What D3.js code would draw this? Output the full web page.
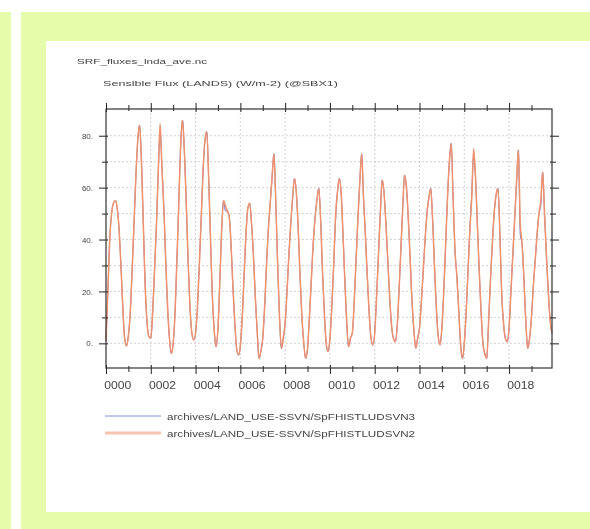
<!DOCTYPE html>
<html>
<head>
<meta charset="utf-8">
<script src="https://cdn.jsdelivr.net/npm/d3@7"></script>
<style>
  body { margin: 0; background: #fff; }
  svg { display: block; font-family: "Liberation Sans", Arial, Helvetica, sans-serif; filter: blur(0.5px); }
</style>
</head>
<body>
<div class="svg-container"></div>
<script>
// monthly sensible heat flux, W/m^2, Jan..Dec for years 0000..0019
const yearLabels = ["0000", "0002", "0004", "0006", "0008", "0010", "0012", "0014", "0016", "0018"];
const yTickValues = [0, 20, 40, 60, 80];
const yMinorValues = [10, 30, 50, 70];
const seriesNames = ["archives/LAND_USE-SSVN/SpFHISTLUDSVN3", "archives/LAND_USE-SSVN/SpFHISTLUDSVN2"];

const fluxSVN2 = [
  1, 20, 40, 50, 54, 55, 52, 44, 30, 14, 2, -1,
  3, 12, 28, 46, 64, 78, 84, 70, 46, 22, 8, 2.6,
  2, 12, 28, 45, 66, 84.7, 67, 52, 32, 14, 2, -3.9,
  0, 12, 32, 54, 76, 86, 74, 54, 32, 14, 4, 1.3,
  4, 14, 30, 48, 66, 78, 81.5, 64, 40, 18, 5, -1.3,
  6, 24, 44, 55, 53, 51, 49, 38, 22, 8, -2, -4.5,
  -1, 10, 26, 42, 52, 54, 46, 34, 18, 5, -5.8, -3,
  2, 14, 30, 44, 54, 64, 73, 54, 30, 10, -1.9, 2,
  8, 20, 34, 46, 56, 63.5, 58, 44, 26, 10, 0, -5.8,
  -2, 10, 24, 38, 48, 55, 59.7, 48, 28, 12, 0, -3.2,
  2, 14, 30, 49, 58, 63.5, 58, 42, 24, 8, -1.3, 2,
  4, 16, 32, 48, 62, 73, 56, 42, 26, 12, 2, -0.6,
  4, 18, 34, 50, 62.9, 58, 46, 32, 18, 7, 2, 0.6,
  6, 20, 36, 52, 64.8, 60, 48, 32, 16, 5, -1.9, 2,
  6, 16, 28, 40, 50, 56, 59.7, 48, 30, 14, 3, -0.6,
  6, 20, 38, 56, 70, 77, 56, 36, 26, 13, 0, -5.8,
  0, 12, 28, 44, 56, 75, 64, 46, 28, 12, 0, -4,
  -5.8, 8, 24, 38, 50, 57, 59.7, 44, 20, 8, 2, 0.6,
  6, 20, 34, 48, 62, 74.5, 46, 38, 24, 8, -1.9, 2,
  10, 22, 32, 42, 50, 55, 66, 50, 34, 20, 9, 3.9
];

const fluxSVN3 = [
  1, 20, 40, 50, 54, 55, 52, 44, 30, 14, 2, -1,
  3, 12, 28, 46, 64, 78, 84, 70, 46, 22, 8, 2.6,
  2, 12, 28, 45, 66, 81, 68, 52, 32, 14, 2, -3.9,
  0, 12, 32, 54, 76, 86, 74, 54, 32, 14, 4, 1.3,
  4, 14, 30, 48, 66, 78, 81.5, 64, 40, 18, 5, -1.3,
  6, 24, 44, 55, 51, 51, 49, 38, 22, 8, -2, -4.5,
  -1, 10, 26, 42, 52, 54, 46, 34, 18, 5, -5.8, -3,
  2, 14, 30, 44, 54, 64, 73, 54, 30, 10, -1.9, 2,
  8, 20, 34, 46, 56, 63.5, 58, 44, 26, 10, 0, -5.8,
  -2, 10, 24, 38, 48, 55, 59.7, 48, 28, 12, 0, -3.2,
  2, 14, 30, 47, 58, 63.5, 58, 42, 24, 8, -1.3, 2,
  4, 16, 32, 48, 62, 73, 56, 42, 26, 12, 2, -0.6,
  4, 18, 34, 50, 62.9, 58, 46, 32, 18, 7, 2, 0.6,
  6, 20, 36, 52, 64.8, 60, 48, 32, 16, 5, -1.9, 2,
  6, 16, 28, 40, 50, 56, 59.7, 48, 30, 14, 3, -0.6,
  6, 20, 38, 56, 70, 77, 56, 36, 26, 13, 0, -5.8,
  0, 12, 28, 44, 58, 72, 64, 46, 28, 12, 0, -4,
  -5.8, 8, 24, 38, 50, 57, 59.7, 44, 20, 8, 2, 0.6,
  6, 20, 34, 48, 62, 74.5, 42, 38, 24, 8, -1.9, 2,
  10, 22, 32, 42, 50, 53, 66, 50, 34, 20, 9, 3.9
];

const width = 590, height = 529;
const green = "#e6fcaa";

const svg = d3.select(".svg-container")
  .append("svg")
  .attr("width", width)
  .attr("height", height);

// page frame
svg.append("rect").attr("x", 0).attr("y", 12).attr("width", 11).attr("height", height - 12).attr("fill", green);
svg.append("rect").attr("x", 21).attr("y", 12).attr("width", width - 21).attr("height", height - 12).attr("fill", green);
svg.append("rect").attr("x", 46).attr("y", 41).attr("width", width - 46).attr("height", 512 - 41).attr("fill", "#fff");

const plot = { left: 106, right: 552, top: 109, bottom: 368 };

const x = d3.scaleLinear().domain([0, fluxSVN2.length - 1]).range([plot.left, plot.right]);
const y = d3.scaleLinear().domain([-9.5, 90.3]).range([plot.bottom, plot.top]);

const majorMonths = yearLabels.map((d, i) => i * 24);
const minorMonths = yearLabels.map((d, i) => i * 24 + 12);

// titles
svg.append("text").attr("x", 77).attr("y", 63.5)
  .attr("font-size", 7.5).attr("fill", "#444")
  .attr("textLength", 130).attr("lengthAdjust", "spacingAndGlyphs")
  .text("SRF_fluxes_lnda_ave.nc");
svg.append("text").attr("x", 103).attr("y", 86)
  .attr("font-size", 8).attr("fill", "#444")
  .attr("textLength", 235).attr("lengthAdjust", "spacingAndGlyphs")
  .text("Sensible Flux (LANDS) (W/m-2) (@SBX1)");

// grid
const grid = svg.append("g").attr("stroke", "#c0c0c0").attr("stroke-width", 0.7).attr("stroke-dasharray", "2,2");
grid.selectAll(".hgrid").data(yTickValues.concat(yMinorValues)).enter().append("line")
  .attr("x1", plot.left).attr("x2", plot.right)
  .attr("y1", d => y(d)).attr("y2", d => y(d));
grid.selectAll(".vgrid").data(majorMonths.slice(1)).enter().append("line")
  .attr("y1", plot.top).attr("y2", plot.bottom)
  .attr("x1", d => x(d)).attr("x2", d => x(d));

// series
const line = d3.line().x((d, i) => x(i)).y(d => y(d)).curve(d3.curveMonotoneX);
svg.append("path").datum(fluxSVN3)
  .attr("fill", "none").attr("stroke", "#6a70c8").attr("stroke-width", 1)
  .attr("d", line);
svg.append("path").datum(fluxSVN2)
  .attr("fill", "none").attr("stroke", "#f0926e").attr("stroke-width", 1.5)
  .attr("stroke-linejoin", "round")
  .attr("d", line);

// axes
function styleTicks(g, inner) {
  g.select(".domain").remove();
  g.selectAll("line").attr("stroke", "#222");
  g.selectAll(".tick line").each(function () {
    const l = d3.select(this);
    if (l.attr("y2") !== null && +l.attr("y2") !== 0) l.attr("y1", l.attr("y2") > 0 ? -inner : inner);
    if (l.attr("x2") !== null && +l.attr("x2") !== 0) l.attr("x1", l.attr("x2") > 0 ? -inner : inner);
  });
}

const xBottom = svg.append("g").attr("transform", `translate(0,${plot.bottom})`)
  .call(d3.axisBottom(x).tickValues(majorMonths).tickSize(6).tickPadding(8)
    .tickFormat((d, i) => yearLabels[i]));
styleTicks(xBottom, 3);
xBottom.selectAll("text").attr("dx", x(6) - x(0)).attr("font-size", 10).attr("fill", "#444")
  .attr("textLength", 27).attr("lengthAdjust", "spacingAndGlyphs");

const xBottomMinor = svg.append("g").attr("transform", `translate(0,${plot.bottom})`)
  .call(d3.axisBottom(x).tickValues(minorMonths).tickSize(4).tickFormat(""));
styleTicks(xBottomMinor, 2);

const xTop = svg.append("g").attr("transform", `translate(0,${plot.top})`)
  .call(d3.axisTop(x).tickValues(majorMonths).tickSize(6).tickFormat(""));
styleTicks(xTop, 3);
const xTopMinor = svg.append("g").attr("transform", `translate(0,${plot.top})`)
  .call(d3.axisTop(x).tickValues(minorMonths).tickSize(4).tickFormat(""));
styleTicks(xTopMinor, 2);

const yLeft = svg.append("g").attr("transform", `translate(${plot.left},0)`)
  .call(d3.axisLeft(y).tickValues(yTickValues).tickSize(7).tickPadding(6).tickFormat(d => d + "."));
styleTicks(yLeft, 2);
yLeft.selectAll("text").attr("font-size", 8).attr("fill", "#444");

const yLeftMinor = svg.append("g").attr("transform", `translate(${plot.left},0)`)
  .call(d3.axisLeft(y).tickValues(yMinorValues).tickSize(4).tickFormat(""));
styleTicks(yLeftMinor, 2);

const yRight = svg.append("g").attr("transform", `translate(${plot.right},0)`)
  .call(d3.axisRight(y).tickValues(yTickValues).tickSize(7).tickFormat(""));
styleTicks(yRight, 2);
const yRightMinor = svg.append("g").attr("transform", `translate(${plot.right},0)`)
  .call(d3.axisRight(y).tickValues(yMinorValues).tickSize(4).tickFormat(""));
styleTicks(yRightMinor, 2);

// frame
svg.append("rect")
  .attr("x", plot.left).attr("y", plot.top)
  .attr("width", plot.right - plot.left).attr("height", plot.bottom - plot.top)
  .attr("fill", "none").attr("stroke", "#333").attr("stroke-width", 1.2);

// legend
const legendColors = ["#7f94e0", "#f6c4b0"];
const legendWidths = [1, 3];
const legendY = [416, 433];
const legend = svg.append("g");
seriesNames.forEach((name, i) => {
  legend.append("line")
    .attr("x1", 105).attr("x2", 161)
    .attr("y1", legendY[i]).attr("y2", legendY[i])
    .attr("stroke", legendColors[i]).attr("stroke-width", legendWidths[i]);
  legend.append("text")
    .attr("x", 167).attr("y", legendY[i] + 3.5)
    .attr("font-size", 9).attr("fill", "#444")
    .attr("textLength", 248).attr("lengthAdjust", "spacingAndGlyphs")
    .text(name);
});
</script>
</body>
</html>
